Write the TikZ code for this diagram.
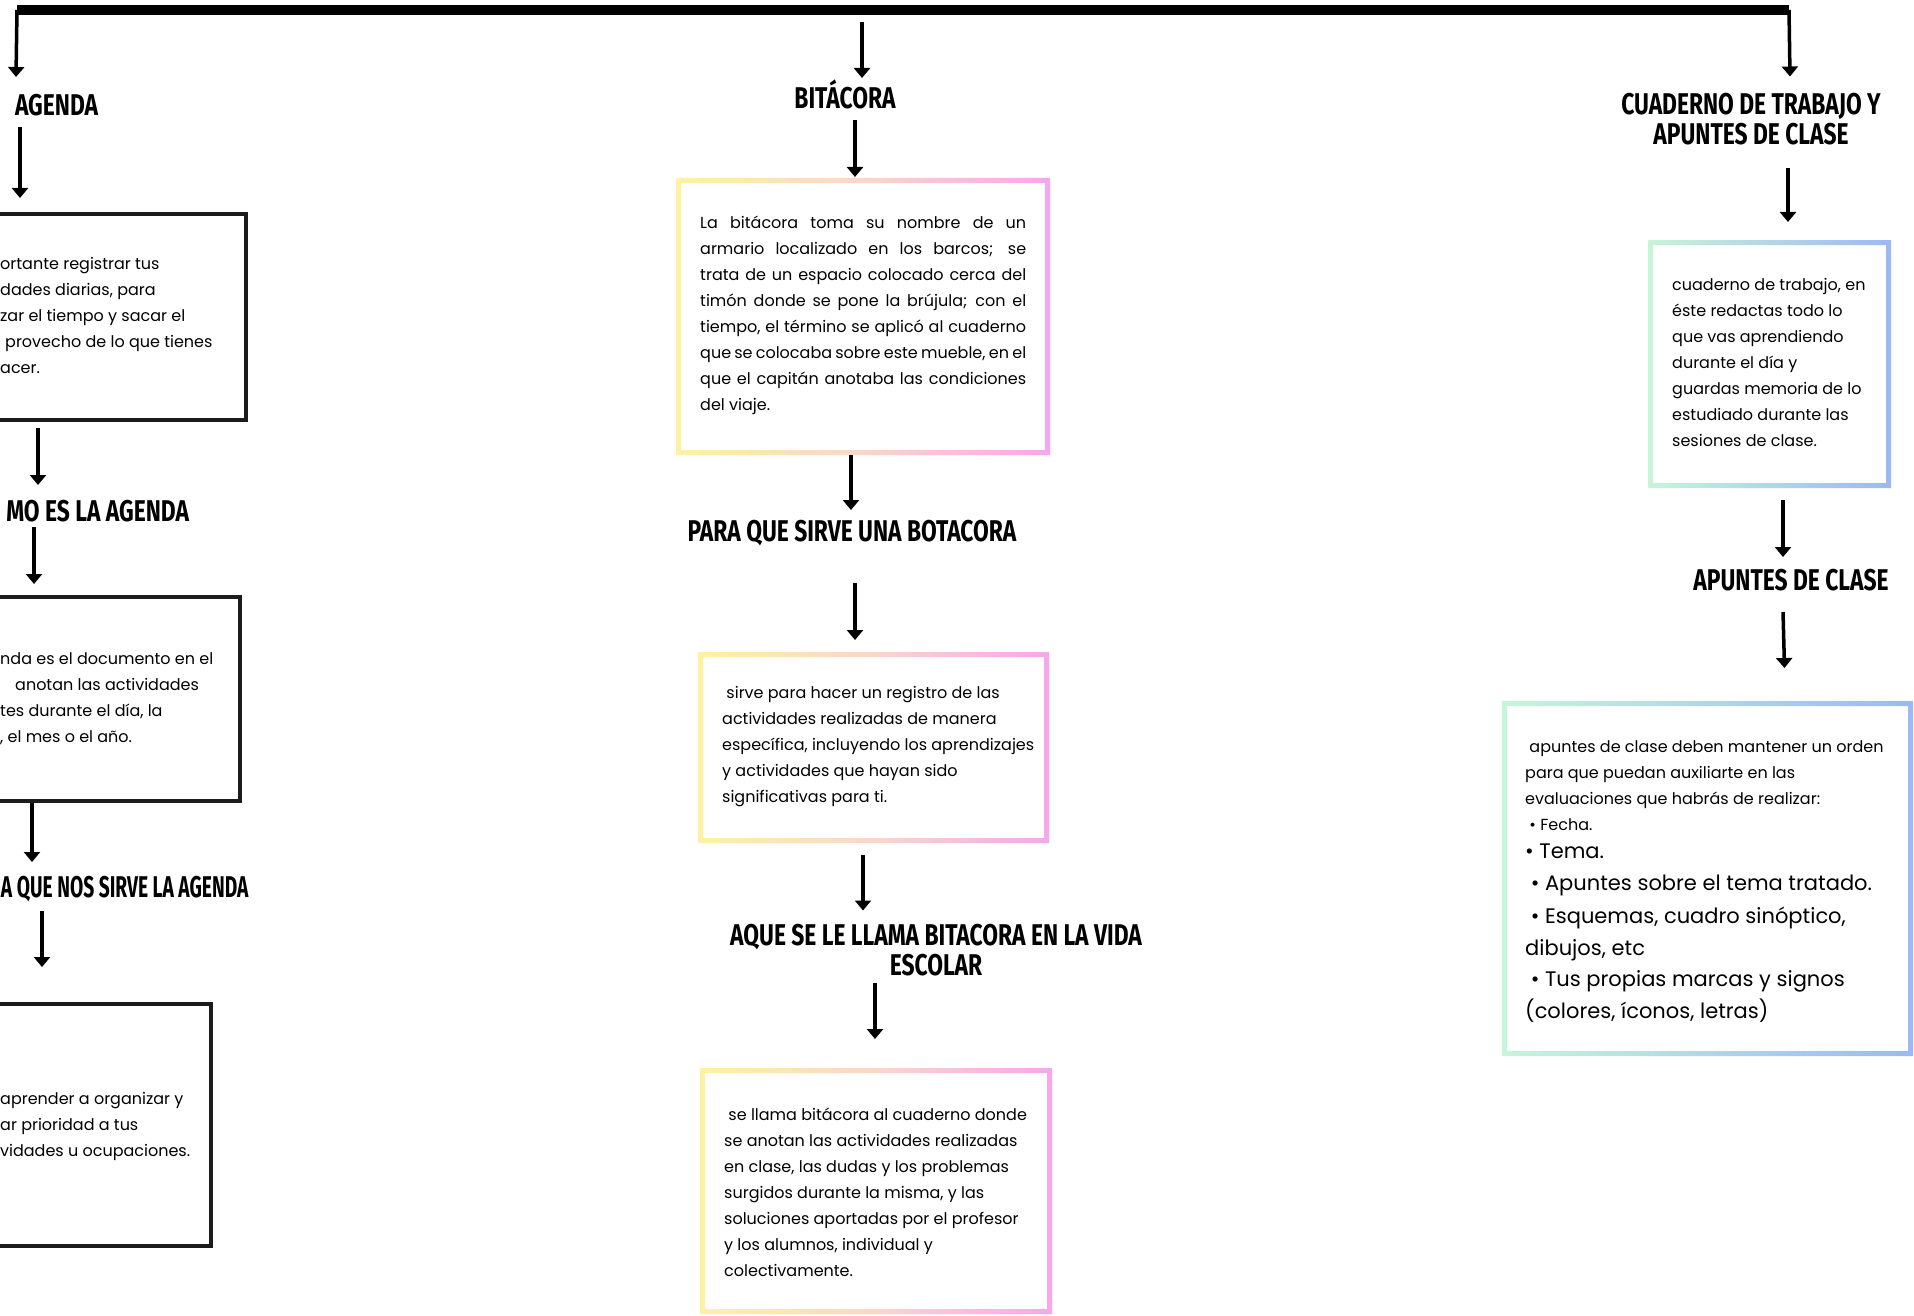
\documentclass[tikz,border=0pt]{standalone}
\usepackage{fontspec}
\setmainfont{Poppins}
\newfontfamily\headfont[FakeStretch=0.76]{Fira Sans}
\newfontfamily\headnarrow[FakeStretch=0.64]{Fira Sans}
\usetikzlibrary{arrows.meta}

\definecolor{ylw}{HTML}{FCF2A2}
\definecolor{pch}{HTML}{FBD6C9}
\definecolor{pnk}{HTML}{F6A6EF}
\definecolor{mnt}{HTML}{C6F5D9}
\definecolor{blu}{HTML}{9CB8F6}
\definecolor{ink}{HTML}{1C1C1C}
\newcommand{\bigln}{\fontsize{21}{26}\selectfont}
\newcommand{\jline}[1]{\makebox[326pt][s]{#1}}
\newcommand{\gradring}[2]{\shade[#1, even odd rule] (#2.north west) rectangle (#2.south east) ([shift={(5,5)}]#2.north west) rectangle ([shift={(-5,-5)}]#2.south east);}

\begin{document}
\begin{tikzpicture}[>={Triangle[width=16pt,length=10pt]}, x=1pt, y=-1pt,
  hdg/.style={inner sep=0, outer sep=0, font=\headfont\bfseries\fontsize{30}{30}\selectfont, text height=21pt, text depth=0pt},
  hdg2/.style={inner sep=0, outer sep=0, align=center, font=\headfont\bfseries\fontsize{30}{30}\selectfont},
  txt/.style={inner sep=0, anchor=base west, align=left, font=\fontsize{16}{26}\selectfont},
  blkbox/.style={draw=ink, line width=4.5pt, inner sep=0, outer sep=0, anchor=north east},
  gbox/.style={inner sep=0, outer sep=0, anchor=north west},
  arr/.style={->, line width=3.5pt},
  bitring/.style={left color=ylw, right color=pnk, middle color=pch},
  cuadring/.style={left color=mnt, right color=blu}]
  \path[use as bounding box, fill=white] (0,0) rectangle (1914,1316);

  % top bar
  \coordinate (barL) at (17,10);
  \coordinate (barM) at (862,10);
  \coordinate (barR) at (1789,10);
  \draw[line width=10pt] (barL) -- (barR);

  \node[hdg, anchor=west] (agenda) at (15,105) {AGENDA};
  \node[hdg] (bitacora) at (845,98) {BITÁCORA};
  \node[hdg2] (cuaderno) at (1751,119) {CUADERNO DE TRABAJO Y\\APUNTES DE CLASE};
  \node[hdg, anchor=east] (como) at (189,511) {MO ES LA AGENDA};
  \node[hdg, anchor=west, font=\headnarrow\bfseries\fontsize{30}{30}\selectfont] (paraag) at (1,887) {A QUE NOS SIRVE LA AGENDA};
  \node[hdg] (parabit) at (852,531) {PARA QUE SIRVE UNA BOTACORA};
  \node[hdg2] (aque) at (936,950) {AQUE SE LE LLAMA BITACORA EN LA VIDA\\ESCOLAR};
  \node[hdg] (apuntes) at (1791,580) {APUNTES DE CLASE};

  \node[blkbox, minimum width=266pt, minimum height=206pt] (box1) at (246,214) {};
  \node[blkbox, minimum width=260pt, minimum height=204pt] (box2) at (240,597) {};
  \node[blkbox, minimum width=231pt, minimum height=242pt] (box3) at (211,1004) {};

  \node[gbox, minimum width=374pt, minimum height=277pt] (b1) at (676,178) {};
  \node[gbox, minimum width=351pt, minimum height=191pt] (b2) at (698,652) {};
  \node[gbox, minimum width=352pt, minimum height=246pt] (b3) at (700,1068) {};
  \node[gbox, minimum width=243pt, minimum height=248pt] (r1) at (1648,240) {};
  \node[gbox, minimum width=411pt, minimum height=355pt] (r2) at (1502,701) {};
  \gradring{bitring}{b1}
  \gradring{bitring}{b2}
  \gradring{bitring}{b3}
  \gradring{cuadring}{r1}
  \gradring{cuadring}{r2}

  \node[txt] (t1) at (0,373.5) {ortante registrar tus\\dades diarias, para\\zar el tiempo y sacar el\\\hspace*{5pt}provecho de lo que tienes\\acer.};
  \node[txt] (t2) at (0,742) {nda es el documento en el\\\hspace*{15pt}anotan las actividades\\tes durante el día, la\\, el mes o el año.};
  \node[txt] (t3) at (0,1156) {aprender a organizar y\\ar prioridad a tus\\vidades u ocupaciones.};

  \node[txt] (tb1) at (700,410) {\jline{La bitácora toma su nombre de un}\\\jline{armario localizado en los barcos; se}\\\jline{trata de un espacio colocado cerca del}\\\jline{timón donde se pone la brújula; con el}\\\jline{tiempo, el término se aplicó al cuaderno}\\\jline{que se colocaba sobre este mueble, en el}\\\jline{que el capitán anotaba las condiciones}\\del viaje.};
  \node[txt] (tb2) at (722,802) {\ sirve para hacer un registro de las\\actividades realizadas de manera\\específica, incluyendo los aprendizajes\\y actividades que hayan sido\\significativas para ti.};
  \node[txt] (tb3) at (724,1276) {\ se llama bitácora al cuaderno donde\\se anotan las actividades realizadas\\en clase, las dudas y los problemas\\surgidos durante la misma, y las\\soluciones aportadas por el profesor\\y los alumnos, individual y\\colectivamente.};
  \node[txt] (tr1) at (1672,446) {cuaderno de trabajo, en\\éste redactas todo lo\\que vas aprendiendo\\durante el día y\\guardas memoria de lo\\estudiado durante las\\sesiones de clase.};
  \node[txt] (tr2) at (1525,1018) {\ apuntes de clase deben mantener un orden\\para que puedan auxiliarte en las\\evaluaciones que habrás de realizar:\\\ • Fecha.\\[2pt]{\bigln • Tema.}\\[6pt]{\bigln\ • Apuntes sobre el tema tratado.}\\[7pt]{\bigln\ • Esquemas, cuadro sinóptico,}\\[6pt]{\bigln dibujos, etc}\\[5pt]{\bigln\ • Tus propias marcas y signos}\\[6pt]{\bigln (colores, íconos, letras)}};

  % arrows
  \draw[arr] (barL) -- ([shift={(1,-17.5)}]agenda.north west);
  \draw[arr] ([shift={(5,11.5)}]agenda.south west) -- ([shift={(40,-16)}]box1.north west);
  \draw[arr] ([shift={(58,8)}]box1.south west) -- ([shift={(-151,-15.5)}]como.north east);
  \draw[arr] ([shift={(-155,5.5)}]como.south east) -- ([shift={(54,-13)}]box2.north west);
  \draw[arr] ([shift={(52,2)}]box2.south west) -- ([shift={(31,-14.5)}]paraag.north west);
  \draw[arr] ([shift={(41,13.5)}]paraag.south west) -- ([shift={(62,-37)}]box3.north west);

  \draw[arr] ([yshift=-12pt]barM) -- ([shift={(17,-9.5)}]bitacora.north);
  \draw[arr] ([shift={(10,11.5)}]bitacora.south) -- ([shift={(-8,-1)}]b1.north);
  \draw[arr] ([shift={(-12,0)}]b1.south) -- ([shift={(-1,-10.5)}]parabit.north);
  \draw[arr] ([shift={(3,41.5)}]parabit.south) -- ([shift={(-18.5,-12)}]b2.north);
  \draw[arr] ([shift={(-10.5,12)}]b2.south) -- ([shift={(-73,-13.6)}]aque.north);
  \draw[arr] ([shift={(-61,6.6)}]aque.south) -- ([shift={(-1,-29)}]b3.north);

  \draw[arr] (barR) -- ([shift={(39,-16.6)}]cuaderno.north);
  \draw[arr] ([shift={(37,22.6)}]cuaderno.south) -- ([shift={(18.5,-18)}]r1.north);
  \draw[arr] ([shift={(13.5,12)}]r1.south) -- ([shift={(-8,-12.5)}]apuntes.north);
  \draw[arr] ([shift={(-8,21.5)}]apuntes.south) -- ([shift={(77,-33)}]r2.north);
\end{tikzpicture}
\end{document}
